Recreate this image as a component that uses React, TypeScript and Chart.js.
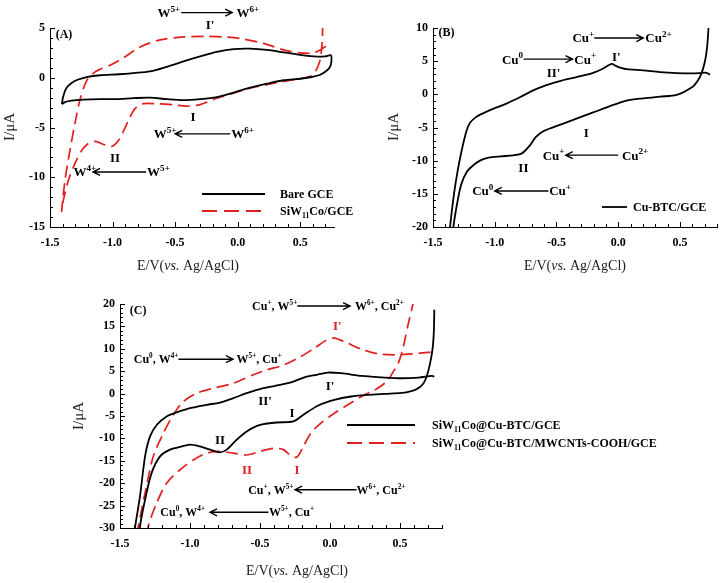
import React, { useEffect, useRef } from 'react';
import { Chart, registerables } from 'chart.js';

Chart.register(...registerables);

// ---------------- DATA ----------------
// Panel A
const bareE = [-1.405,-1.395,-1.37,-1.33,-1.28,-1.207,-1.1,-0.95,-0.833,-0.7,-0.567,-0.433,-0.3,-0.167,-0.033,0.1,0.233,0.367,0.5,0.633,0.7,0.745,0.75,0.742,0.715,0.66,0.58,0.5,0.367,0.233,0.1,-0.033,-0.167,-0.3,-0.433,-0.567,-0.7,-0.833,-0.967,-1.1,-1.233,-1.33,-1.38,-1.405];
const bareI = [-2.65,-1.9,-1.05,-0.55,-0.2,0.07,0.25,0.35,0.47,0.64,1.1,1.65,2.15,2.6,2.88,2.92,2.8,2.55,2.3,2.12,2.15,2.25,1.8,1.2,0.75,0.3,0.05,-0.1,-0.25,-0.6,-1.0,-1.5,-1.95,-2.15,-2.25,-2.15,-2.0,-2.05,-2.15,-2.15,-2.2,-2.3,-2.45,-2.65];
const siwE = [0.68,0.677,0.67,0.655,0.62,0.58,0.5,0.367,0.233,0.1,-0.033,-0.167,-0.3,-0.407,-0.513,-0.647,-0.753,-0.82,-0.87,-0.91,-0.953,-1.007,-1.06,-1.14,-1.193,-1.247,-1.3,-1.353,-1.393,-1.407,-1.38,-1.34,-1.3,-1.26,-1.207,-1.15,-1.1,-1.02,-0.913,-0.78,-0.62,-0.433,-0.25,-0.1,0.02,0.207,0.367,0.5,0.607,0.673,0.71,0.735];
const siwI = [5.4,4.0,2.8,1.6,0.6,0.15,-0.1,-0.37,-0.7,-1.04,-1.54,-2.05,-2.7,-2.85,-2.72,-2.62,-2.6,-3.1,-4.2,-5.3,-6.3,-6.9,-6.75,-6.4,-6.6,-7.3,-8.6,-10.3,-12.3,-13.4,-10.3,-7.25,-4.56,-2.2,-0.3,0.5,0.85,1.25,2.0,3.1,3.8,4.1,4.15,4.1,3.95,3.45,2.8,2.5,2.5,2.9,3.2,3.25];
// Panel B
const cuE = [0.732,0.724,0.714,0.698,0.675,0.645,0.6,0.473,0.338,0.203,0.068,-0.04,-0.149,-0.257,-0.365,-0.473,-0.554,-0.62,-0.67,-0.72,-0.78,-0.85,-0.95,-1.05,-1.12,-1.18,-1.227,-1.27,-1.3,-1.335,-1.345,-1.375,-1.362,-1.33,-1.3,-1.267,-1.23,-1.2,-1.15,-1.1,-1.014,-0.905,-0.797,-0.689,-0.581,-0.473,-0.338,-0.203,-0.122,-0.054,-0.02,0.03,0.068,0.203,0.338,0.473,0.608,0.716,0.743];
const cuI = [10.3,8.0,6.2,4.6,3.2,2.1,1.1,-0.09,-0.34,-0.6,-0.95,-1.6,-2.36,-3.1,-3.85,-4.6,-5.15,-5.7,-6.5,-7.8,-8.9,-9.2,-9.35,-9.55,-10.0,-10.8,-11.7,-13.5,-16.0,-20,-23,-23,-20,-15,-11.5,-8.4,-5.6,-4.3,-3.4,-2.9,-2.2,-1.4,-0.45,0.6,1.4,2.0,2.6,3.25,3.9,4.6,4.3,3.95,3.8,3.6,3.35,3.2,3.15,3.25,2.94];
// Panel C
const compE = [0.745,0.742,0.736,0.728,0.715,0.704,0.688,0.668,0.64,0.608,0.56,0.512,0.392,0.272,0.151,0.031,-0.08,-0.19,-0.262,-0.381,-0.5,-0.595,-0.667,-0.738,-0.786,-0.857,-0.929,-1.0,-1.071,-1.143,-1.214,-1.274,-1.321,-1.357,-1.365,-1.40,-1.393,-1.357,-1.321,-1.286,-1.238,-1.167,-1.095,-1.0,-0.881,-0.786,-0.69,-0.595,-0.476,-0.357,-0.262,-0.167,-0.095,-0.017,0.079,0.224,0.392,0.512,0.632,0.728,0.745];
const compI = [18.7,14,11,9.0,6.8,5.3,3.6,2.3,1.4,0.83,0.4,0.15,-0.06,-0.28,-0.65,-1.4,-2.6,-4.7,-6.2,-6.45,-7.0,-8.45,-10.3,-12.5,-13.1,-12.5,-11.8,-11.4,-11.9,-12.5,-14.0,-17.7,-23.7,-29.6,-33,-33,-30,-22.9,-14.0,-9.6,-7.0,-5.1,-4.2,-3.25,-2.5,-2.0,-1.0,0.09,1.2,1.95,2.69,3.8,4.2,4.7,4.55,3.95,3.58,3.43,3.58,3.95,3.8];
const mwE = [0.6,0.585,0.56,0.524,0.488,0.45,0.416,0.37,0.32,0.224,0.127,0.031,-0.065,-0.137,-0.19,-0.238,-0.286,-0.333,-0.405,-0.5,-0.595,-0.69,-0.786,-0.881,-0.976,-1.071,-1.167,-1.238,-1.298,-1.31,-1.385,-1.369,-1.321,-1.262,-1.19,-1.119,-1.048,-0.952,-0.833,-0.69,-0.548,-0.45,-0.329,-0.209,-0.113,-0.017,0.031,0.103,0.224,0.344,0.464,0.584,0.704,0.752];
const mwI = [21,19,15.7,10.5,6.8,4.8,3.06,1.8,0.83,-0.65,-2.5,-4.37,-6.6,-8.83,-11.8,-14.2,-13.7,-12.5,-12.2,-12.9,-13.7,-13.3,-12.9,-13.3,-14.8,-17.0,-20,-24.4,-29.6,-33,-33,-29.6,-22.2,-14.0,-8.8,-4.74,-1.77,0.09,1.2,2.32,4.2,5.3,6.4,8.26,10.1,12.1,12.4,11.6,9.9,8.86,8.63,8.86,9.2,9.4];

// tick labels
const xTicks = [-1.5, -1.0, -0.5, 0.0, 0.5];
const yTicksA = [-15, -10, -5, 0, 5];
const yTicksB = [-20, -15, -10, -5, 0, 5, 10];
const yTicksC = [-30, -25, -20, -15, -10, -5, 0, 5, 10, 15, 20];

// series names
const namesA = ['Bare GCE', 'SiW_{11}Co/GCE'];
const namesB = ['Cu-BTC/GCE'];
const namesC = ['SiW_{11}Co@Cu-BTC/GCE', 'SiW_{11}Co@Cu-BTC/MWCNTs-COOH/GCE'];

const xTitle = 'E/V(~{vs.} Ag/AgCl)';
const yTitle = 'I/\u03bcA';

// annotation texts
const notesA = [
  { t: '(A)', e: -1.455, i: 4.45, a: 'left', s: 12 },
  { t: 'W^{5+}', e: -0.46, i: 6.55, a: 'right' },
  { t: 'W^{6+}', e: -0.01, i: 6.55, a: 'left' },
  { t: "I'", e: -0.22, i: 5.33, a: 'center' },
  { t: 'I', e: -0.356, i: -3.93, a: 'center' },
  { t: 'W^{5+}', e: -0.49, i: -5.64, a: 'right' },
  { t: 'W^{6+}', e: -0.052, i: -5.64, a: 'left' },
  { t: 'II', e: -0.98, i: -8.06, a: 'center' },
  { t: 'W^{4+}', e: -1.13, i: -9.47, a: 'right' },
  { t: 'W^{5+}', e: -0.724, i: -9.47, a: 'left' },
];
const arrowsA = [
  { e1: -0.452, e2: -0.044, i: 6.55 },
  { e1: -0.06, e2: -0.5, i: -5.64 },
  { e1: -0.732, e2: -1.156, i: -9.47 },
];
const notesB = [
  { t: '(B)', e: -1.455, i: 9.45, a: 'left', s: 12 },
  { t: 'Cu^{+}', e: -0.194, i: 8.49, a: 'right' },
  { t: 'Cu^{2+}', e: 0.219, i: 8.49, a: 'left' },
  { t: 'Cu^{0}', e: -0.77, i: 5.31, a: 'right' },
  { t: 'Cu^{+}', e: -0.356, i: 5.31, a: 'left' },
  { t: "I'", e: -0.016, i: 5.7, a: 'center' },
  { t: "II'", e: -0.524, i: 3.28, a: 'center' },
  { t: 'I', e: -0.259, i: -5.73, a: 'center' },
  { t: 'Cu^{+}', e: -0.435, i: -9.17, a: 'right' },
  { t: 'Cu^{2+}', e: 0.03, i: -9.17, a: 'left' },
  { t: 'II', e: -0.768, i: -11.03, a: 'center' },
  { t: 'Cu^{0}', e: -1.011, i: -14.57, a: 'right' },
  { t: 'Cu^{+}', e: -0.559, i: -14.57, a: 'left' },
];
const arrowsB = [
  { e1: -0.194, e2: 0.203, i: 8.49 },
  { e1: -0.767, e2: -0.37, i: 5.31 },
  { e1: 0.0, e2: -0.425, i: -9.17 },
  { e1: -0.565, e2: -1.0, i: -14.57 },
];
const notesC = [
  { t: '(C)', e: -1.43, i: 18.66, a: 'left', s: 12 },
  { t: 'Cu^{+}, W^{5+}', e: -0.234, i: 19.55, a: 'right', s: 12 },
  { t: 'W^{6+}, Cu^{2+}', e: 0.179, i: 19.55, a: 'left', s: 12 },
  { t: "I'", e: 0.052, i: 15.1, a: 'center', c: 'red' },
  { t: 'Cu^{0}, W^{4+}', e: -1.083, i: 7.67, a: 'right', s: 12 },
  { t: 'W^{5+}, Cu^{+}', e: -0.667, i: 7.67, a: 'left', s: 12 },
  { t: "I'", e: 0.0, i: 1.73, a: 'center' },
  { t: "II'", e: -0.464, i: -1.62, a: 'center' },
  { t: 'I', e: -0.271, i: -4.29, a: 'center' },
  { t: 'II', e: -0.786, i: -10.3, a: 'center' },
  { t: 'II', e: -0.593, i: -17.0, a: 'center', c: 'red' },
  { t: 'I', e: -0.236, i: -17.0, a: 'center', c: 'red' },
  { t: 'Cu^{+}, W^{5+}', e: -0.262, i: -21.45, a: 'right', s: 12 },
  { t: 'W^{6+}, Cu^{2+}', e: 0.19, i: -21.45, a: 'left', s: 12 },
  { t: 'Cu^{0}, W^{4+}', e: -0.893, i: -26.5, a: 'right', s: 12 },
  { t: 'W^{5+}, Cu^{+}', e: -0.436, i: -26.5, a: 'left', s: 12 },
];
const arrowsC = [
  { e1: -0.234, e2: 0.143, i: 19.55 },
  { e1: -1.083, e2: -0.693, i: 7.67 },
  { e1: 0.19, e2: -0.25, i: -21.45 },
  { e1: -0.44, e2: -0.857, i: -26.5 },
];

// ---------------- STYLE / LAYOUT ----------------
const RED = '#e21f1f';
const BLACK = '#000000';
const FONT = '"Liberation Serif", "Times New Roman", serif';

type Note = { t: string; e: number; i: number; a: string; s?: number; c?: string };
type Arrow = { e1: number; e2: number; i: number };
type Series = { name: string; e: number[]; i: number[]; color: string; dash: number[] };
type Panel = {
  id: string;
  area: { l: number; t: number; r: number; b: number };
  xMax: number; yMin: number; yMax: number; yTicks: number[];
  series: Series[];
  notes: Note[]; arrows: Arrow[]; supScale: number;
  legend: { x1: number; x2: number; y: number; tx: number }[];
  xTitlePos: [number, number]; yTitlePos: [number, number];
};

const panels: Panel[] = [
  {
    id: 'A', area: { l: 50, t: 28, r: 334, b: 227 }, xMax: 0.77, yMin: -15, yMax: 5, yTicks: yTicksA,
    series: [
      { name: namesA[0], e: bareE, i: bareI, color: BLACK, dash: [] },
      { name: namesA[1], e: siwE, i: siwI, color: RED, dash: [12, 6] },
    ],
    notes: notesA as Note[], arrows: arrowsA, supScale: 0.7,
    legend: [{ x1: 202, x2: 265, y: 194, tx: 280 }, { x1: 202, x2: 262, y: 211, tx: 280 }],
    xTitlePos: [188, 265], yTitlePos: [9, 127],
  },
  {
    id: 'B', area: { l: 433, t: 28, r: 717, b: 227 }, xMax: 0.8, yMin: -20, yMax: 10, yTicks: yTicksB,
    series: [{ name: namesB[0], e: cuE, i: cuI, color: BLACK, dash: [] }],
    notes: notesB as Note[], arrows: arrowsB, supScale: 0.7,
    legend: [{ x1: 602, x2: 627, y: 207, tx: 633 }],
    xTitlePos: [575, 265], yTitlePos: [393, 127],
  },
  {
    id: 'C', area: { l: 120, t: 304, r: 442, b: 528 }, xMax: 0.8, yMin: -30, yMax: 20, yTicks: yTicksC,
    series: [
      { name: namesC[0], e: compE, i: compI, color: BLACK, dash: [] },
      { name: namesC[1], e: mwE, i: mwI, color: RED, dash: [12, 6] },
    ],
    notes: notesC as Note[], arrows: arrowsC, supScale: 0.6,
    legend: [{ x1: 347, x2: 415, y: 425, tx: 432 }, { x1: 347, x2: 415, y: 443, tx: 432 }],
    xTitlePos: [297, 570], yTitlePos: [78, 416],
  },
];

// ---------------- RICH TEXT ----------------
type Seg = { t: string; m: 'n' | 'sup' | 'sub' | 'it' };
function parseRich(s: string): Seg[] {
  const out: Seg[] = [];
  let buf = '';
  let k = 0;
  while (k < s.length) {
    const c = s[k];
    if ((c === '^' || c === '_' || c === '~') && s[k + 1] === '{') {
      if (buf) { out.push({ t: buf, m: 'n' }); buf = ''; }
      const end = s.indexOf('}', k + 2);
      out.push({ t: s.slice(k + 2, end), m: c === '^' ? 'sup' : c === '_' ? 'sub' : 'it' });
      k = end + 1;
    } else { buf += c; k++; }
  }
  if (buf) out.push({ t: buf, m: 'n' });
  return out;
}

function drawRich(ctx: CanvasRenderingContext2D, s: string, x: number, y: number, align: string,
  size: number, bold: boolean, color: string, supScale: number) {
  const segs = parseRich(s);
  const fontFor = (m: string) => {
    const sz = m === 'sup' || m === 'sub' ? size * supScale : size;
    return `${m === 'it' ? 'italic ' : ''}${bold ? 'bold ' : ''}${sz.toFixed(1)}px ${FONT}`;
  };
  let w = 0;
  const widths = segs.map((sg) => { ctx.font = fontFor(sg.m); const ww = ctx.measureText(sg.t).width; w += ww; return ww; });
  let cx = align === 'left' ? x : align === 'right' ? x - w : x - w / 2;
  const base = y + size * 0.34;
  ctx.fillStyle = color;
  ctx.textAlign = 'left';
  ctx.textBaseline = 'alphabetic';
  segs.forEach((sg, k) => {
    ctx.font = fontFor(sg.m);
    const dy = sg.m === 'sup' ? -size * 0.42 : sg.m === 'sub' ? size * 0.25 : 0;
    ctx.fillText(sg.t, cx, base + dy);
    cx += widths[k];
  });
}

// ---------------- PLUGIN ----------------
function overlay(p: Panel) {
  return {
    id: 'overlay' + p.id,
    afterDraw(chart: any) {
      const ctx: CanvasRenderingContext2D = chart.ctx;
      const xs = chart.scales.x;
      const ys = chart.scales.y;
      const { left, bottom } = chart.chartArea;
      ctx.save();
      ctx.strokeStyle = BLACK;
      ctx.lineWidth = 1;
      // inward major + minor ticks
      ctx.beginPath();
      for (let k = -15; k <= Math.floor(p.xMax * 10 + 1e-6); k++) {
        const px = Math.round(xs.getPixelForValue(k / 10)) + 0.5;
        const len = k % 5 === 0 ? 5 : 3;
        ctx.moveTo(px, bottom); ctx.lineTo(px, bottom - len);
      }
      for (let k = p.yMin; k <= p.yMax; k++) {
        const py = Math.round(ys.getPixelForValue(k)) + 0.5;
        const len = k % 5 === 0 ? 5 : 3;
        ctx.moveTo(left, py); ctx.lineTo(left + len, py);
      }
      ctx.stroke();

      // arrows
      ctx.lineWidth = 1.4;
      p.arrows.forEach((a) => {
        const x1 = xs.getPixelForValue(a.e1);
        const x2 = xs.getPixelForValue(a.e2);
        const y = ys.getPixelForValue(a.i);
        const dir = x2 > x1 ? 1 : -1;
        ctx.beginPath();
        ctx.moveTo(x1, y); ctx.lineTo(x2, y);
        ctx.moveTo(x2 - dir * 7, y - 3.5); ctx.lineTo(x2, y); ctx.lineTo(x2 - dir * 7, y + 3.5);
        ctx.stroke();
      });

      // notes
      p.notes.forEach((n) => {
        const x = xs.getPixelForValue(n.e);
        const y = ys.getPixelForValue(n.i);
        drawRich(ctx, n.t, x, y, n.a, n.s || 13, true, n.c === 'red' ? RED : BLACK, p.supScale);
      });

      // legend
      p.series.forEach((s, k) => {
        const L = p.legend[k];
        ctx.beginPath();
        ctx.strokeStyle = s.color;
        ctx.lineWidth = 1.8;
        ctx.setLineDash(s.dash.length ? [15, 7] : []);
        ctx.moveTo(L.x1, L.y); ctx.lineTo(L.x2, L.y);
        ctx.stroke();
        ctx.setLineDash([]);
        drawRich(ctx, s.name, L.tx, L.y, 'left', 12, true, BLACK, 0.65);
      });

      // axis titles
      drawRich(ctx, xTitle, p.xTitlePos[0], p.xTitlePos[1], 'center', 14, false, '#222', 0.7);
      ctx.translate(p.yTitlePos[0], p.yTitlePos[1]);
      ctx.rotate(-Math.PI / 2);
      drawRich(ctx, yTitle, 0, 0, 'center', 15, false, '#222', 0.7);
      ctx.restore();
    },
  };
}

function makeConfig(p: Panel): any {
  const YW = 40;
  const XH = 30;
  const tickFont = { family: FONT, weight: 'bold' as const, size: 12 };
  return {
    type: 'scatter',
    data: {
      datasets: p.series.map((s) => ({
        label: s.name,
        data: s.e.map((x, k) => ({ x, y: s.i[k] })),
        showLine: true,
        borderColor: s.color,
        borderWidth: s.dash.length ? 1.7 : 1.8,
        borderDash: s.dash,
        pointRadius: 0,
        tension: 0.3,
        fill: false,
      })),
    },
    options: {
      responsive: false,
      animation: false,
      events: [],
      layout: {
        padding: { left: p.area.l - YW, top: p.area.t, right: 720 - p.area.r, bottom: 583 - p.area.b - XH },
      },
      plugins: { legend: { display: false }, tooltip: { enabled: false }, title: { display: false } },
      scales: {
        x: {
          type: 'linear', min: -1.5, max: p.xMax,
          afterFit: (s: any) => { s.height = XH; },
          afterBuildTicks: (s: any) => { s.ticks = xTicks.map((v) => ({ value: v })); },
          ticks: { callback: (v: any) => Number(v).toFixed(1), font: tickFont, color: BLACK, padding: 9, maxRotation: 0, autoSkip: false },
          grid: { display: true, drawOnChartArea: false, drawTicks: false },
          border: { display: true, color: BLACK, width: 1 },
        },
        y: {
          type: 'linear', min: p.yMin, max: p.yMax,
          afterFit: (s: any) => { s.width = YW; },
          afterBuildTicks: (s: any) => { s.ticks = p.yTicks.map((v) => ({ value: v })); },
          ticks: { callback: (v: any) => String(v), font: tickFont, color: BLACK, padding: 5, autoSkip: false },
          grid: { display: true, drawOnChartArea: false, drawTicks: false },
          border: { display: true, color: BLACK, width: 1 },
        },
      },
    },
    plugins: [overlay(p)],
  };
}

function PanelChart({ p }: { p: Panel }) {
  const ref = useRef<HTMLCanvasElement>(null);
  useEffect(() => {
    const chart = new Chart(ref.current as HTMLCanvasElement, makeConfig(p));
    return () => chart.destroy();
  }, [p]);
  return (
    <canvas ref={ref} width={720} height={583}
      style={{ position: 'absolute', left: 0, top: 0, width: 720, height: 583 }} />
  );
}

export default function App() {
  return (
    <div style={{ position: 'absolute', left: 0, top: 0, width: 720, height: 583, background: '#fff', overflow: 'hidden' }}>
      {panels.map((p) => <PanelChart key={p.id} p={p} />)}
    </div>
  );
}
